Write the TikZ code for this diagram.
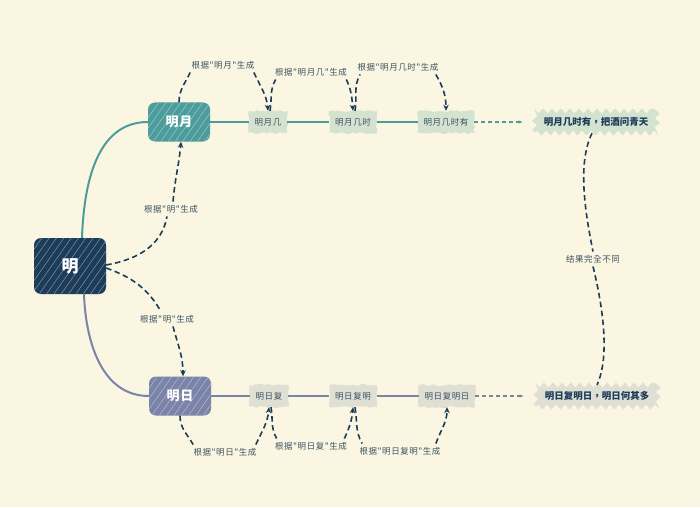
\documentclass[tikz,border=0pt]{standalone}
\usepackage{fontspec}
\setmainfont{Noto Sans CJK TC}[Ligatures=TeXOff]
\newfontfamily\spaced{Noto Sans CJK TC}[Ligatures=TeXOff,LetterSpace=6]
\usetikzlibrary{arrows.meta,decorations.pathmorphing,patterns.meta}
\definecolor{paper}{RGB}{250,246,225}
\definecolor{navy}{RGB}{28,60,90}
\definecolor{sea}{RGB}{76,156,156}
\definecolor{slate}{RGB}{122,131,168}
\definecolor{ink}{RGB}{60,84,100}
\definecolor{mint}{RGB}{212,226,208}
\definecolor{stone}{RGB}{223,223,211}

\begin{document}
\begin{tikzpicture}[x=1pt,y=1pt,
  every node/.style={font=\spaced\fontsize{8.5}{10}\selectfont,text=ink},
  topic/.style={rounded corners=7pt,fill=#1,minimum width=62pt,minimum height=39pt,
    text=white,font=\spaced\fontsize{13}{15}\selectfont\bfseries,
    postaction={pattern={Lines[angle=55,distance=6pt,line width=.5pt]},pattern color=#1!55!white}},
  chain/.style={fill=#1,decorate,decoration={random steps,segment length=3pt,amplitude=1pt},
    inner xsep=6pt,minimum height=22pt},
  ending/.style={fill=#1,decorate,decoration={zigzag,segment length=9pt,amplitude=2.5pt},
    inner xsep=9pt,minimum height=22pt,font=\fontsize{9.5}{11}\selectfont\bfseries,text=navy},
  gen/.style={draw=navy,line width=1.6pt,dash pattern=on 5.5pt off 3.5pt},
  genarrow/.style={gen,-{Stealth[length=6pt,width=5.5pt]}},
]

  % Paper
  \fill[paper] (0,0) rectangle (700,507);
  \useasboundingbox (0,0) rectangle (700,507);

  % Topics
  \node[topic=navy,minimum width=72pt,minimum height=56pt,font=\fontsize{17}{20}\selectfont\bfseries] (root) at (70,241) {明};
  \node[topic=sea] (moon) at (179,385) {明月};
  \node[topic=slate] (sun) at (180,111) {明日};
  \draw[sea,line width=2pt] ([xshift=12pt]root.north) to[out=88,in=180] (moon.west);
  \draw[slate,line width=2pt] ([xshift=14pt]root.south) to[out=-88,in=180] (sun.west);

  % Upper chain
  \node[chain=mint] (moon1) at (268,385) {明月几};
  \node[chain=mint] (moon2) at (353,385) {明月几时};
  \node[chain=mint] (moon3) at (446,385) {明月几时有};
  \node[ending=mint] (moonend) at (596,385) {明月几时有，把酒问青天};
  \draw[sea,line width=1.5pt] (moon) -- (moon1) -- (moon2) -- (moon3);
  \draw[sea,line width=1.2pt,dash pattern=on 4pt off 3pt,-{Stealth[length=4pt]},shorten >=12pt] (moon3) -- (moonend);

  % Lower chain
  \node[chain=stone] (sun1) at (269,111) {明日复};
  \node[chain=stone] (sun2) at (353,111) {明日复明};
  \node[chain=stone] (sun3) at (447,111) {明日复明日};
  \node[ending=stone] (sunend) at (597,111) {明日复明日，明日何其多};
  \draw[slate,line width=1.5pt] (sun) -- (sun1) -- (sun2) -- (sun3);
  \draw[slate,line width=1.2pt,dash pattern=on 4pt off 3pt,-{Stealth[length=4pt]},shorten >=12pt] (sun3) -- (sunend);

  % Generated from
  \node (g0) at (171,298) {根据"明"生成};
  \node (g1) at (167,188) {根据"明"生成};
  \draw[gen] ([yshift=1pt]root.east) to[out=10,in=-100] ([xshift=-4pt]g0.south);
  \draw[genarrow] ([xshift=2pt]g0.north) to[out=85,in=-95] ([xshift=2pt]moon.south);
  \draw[gen] ([yshift=-2pt]root.east) to[out=-20,in=120] ([xshift=-6pt]g1.north);
  \draw[genarrow] ([xshift=6pt]g1.south) to[out=-75,in=90] ([xshift=3pt]sun.north);

  \node (g2) at (223,442) {根据"明月"生成};
  \node (g3) at (311,435) {根据"明月几"生成};
  \node (g4) at (398,440) {根据"明月几时"生成};
  \draw[gen] (moon.north) to[out=90,in=-115] ([xshift=2pt]g2.south west);
  \draw[genarrow] ([xshift=-4pt]g2.south east) to[out=-65,in=95] (moon1.north);
  \draw[gen] ([xshift=2pt]moon1.north) to[out=80,in=-120] ([xshift=4pt]g3.south west);
  \draw[genarrow] ([xshift=-4pt]g3.south east) to[out=-65,in=95] (moon2.north);
  \draw[gen] ([xshift=2pt]moon2.north) to[out=80,in=-120] ([xshift=6pt]g4.south west);
  \draw[genarrow] ([xshift=-6pt]g4.south east) to[out=-60,in=90] (moon3.north);

  \node (g5) at (225,55) {根据"明日"生成};
  \node (g6) at (311,61) {根据"明日复"生成};
  \node (g7) at (400,56) {根据"明日复明"生成};
  \draw[gen] (sun.south) to[out=-90,in=120] ([xshift=3pt]g5.north west);
  \draw[genarrow] ([xshift=-4pt]g5.north east) to[out=65,in=-95] (sun1.south);
  \draw[gen] ([xshift=2pt]sun1.south) to[out=-80,in=120] ([xshift=5pt]g6.north west);
  \draw[genarrow] ([xshift=-6pt]g6.north east) to[out=65,in=-95] (sun2.south);
  \draw[gen] ([xshift=2pt]sun2.south) to[out=-80,in=120] ([xshift=6pt]g7.north west);
  \draw[genarrow] ([xshift=-8pt]g7.north east) to[out=70,in=-90] (sun3.south);

  % Outcome
  \node (diff) at (593,248) {结果完全不同};
  \draw[gen] ([xshift=-4pt]moonend.south) .. controls (578,345) and (584,300) .. (diff.north);
  \draw[gen] (diff.south) .. controls (603,200) and (610,150) .. (sunend.north);

\end{tikzpicture}
\end{document}
